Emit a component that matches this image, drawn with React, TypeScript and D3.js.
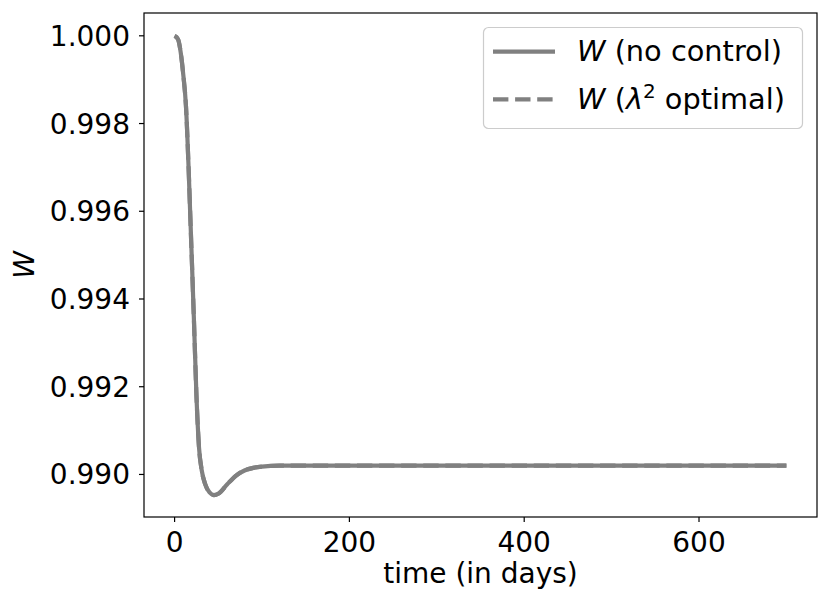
import React from "react";
import * as d3 from "d3";

const timeDays = [0, 4, 7, 10, 13, 16, 19, 22, 25, 28, 31, 35, 40, 45, 50, 60, 70, 80, 90, 100, 120, 150, 200, 300, 400, 500, 600, 700];
const wNoControl = [1.0, 0.99992, 0.99962, 0.9991, 0.9984, 0.997, 0.9953, 0.9936, 0.9918, 0.9906, 0.9901, 0.98978, 0.98959, 0.98953, 0.98956, 0.98977, 0.98997, 0.99009, 0.99015, 0.99018, 0.9902, 0.9902, 0.9902, 0.9902, 0.9902, 0.9902, 0.9902, 0.9902];
const wOptimal = [...wNoControl];
const xTicks = [0, 200, 400, 600];
const yTicks = [0.99, 0.992, 0.994, 0.996, 0.998, 1.0];

export default function App() {
  const W = 830, H = 606;
  const left = 144, right = 817, top = 13, bottom = 517;
  const x = d3.scaleLinear().domain([-35, 735]).range([left, right]);
  const y = d3.scaleLinear().domain([0.98903, 1.00052]).range([bottom, top]);
  const line = d3
    .line<number>()
    .x((_, i) => x(timeDays[i]))
    .y((d) => y(d))
    .curve(d3.curveMonotoneX);
  const font = "DejaVu Sans, sans-serif";
  const color = "#808080";
  return (
    <svg width={W} height={H} style={{ position: "absolute", left: 0, top: 0, background: "#fff" }} fontFamily={font}>
      <rect width={W} height={H} fill="#fff" />
      <defs>
        <clipPath id="clip">
          <rect x={left} y={top} width={right - left} height={bottom - top} />
        </clipPath>
      </defs>
      <g clipPath="url(#clip)">
        <path d={line(wNoControl) || ""} fill="none" stroke={color} strokeWidth={4.2} />
        <path d={line(wOptimal) || ""} fill="none" stroke={color} strokeWidth={4.2} strokeDasharray="15.4 6.7" />
      </g>
      <rect x={left} y={top} width={right - left} height={bottom - top} fill="none" stroke="#000" strokeWidth={1.2} />
      {xTicks.map((t) => (
        <g key={t}>
          <line x1={x(t)} x2={x(t)} y1={bottom} y2={bottom + 5} stroke="#000" strokeWidth={1.2} />
          <text x={x(t)} y={551.5} textAnchor="middle" fontSize={28}>
            {t}
          </text>
        </g>
      ))}
      {yTicks.map((t) => (
        <g key={t}>
          <line x1={left - 5} x2={left} y1={y(t)} y2={y(t)} stroke="#000" strokeWidth={1.2} />
          <text x={130} y={y(t) + 10} textAnchor="end" fontSize={28}>
            {t.toFixed(3)}
          </text>
        </g>
      ))}
      <text x={(left + right) / 2} y={583} textAnchor="middle" fontSize={28}>
        time (in days)
      </text>
      <text
        transform={`translate(34, ${(top + bottom) / 2}) rotate(-90)`}
        textAnchor="middle"
        fontSize={28}
        fontStyle="italic"
      >
        W
      </text>
      <rect x={483.5} y={27.5} width={319} height={101} rx={5} fill="#fff" fillOpacity={0.8} stroke="#cccccc" strokeWidth={1.2} />
      <line x1={493} x2={555} y1={51.7} y2={51.7} stroke={color} strokeWidth={4.2} />
      <line x1={493} x2={555} y1={99.3} y2={99.3} stroke={color} strokeWidth={4.2} strokeDasharray="15.4 6.7" />
      <text x={577} y={61} fontSize={28.8}>
        <tspan fontStyle="italic">W</tspan>
        <tspan> (no control)</tspan>
      </text>
      <text x={577} y={108.5} fontSize={28.8}>
        <tspan fontStyle="italic">W</tspan>
        <tspan> (</tspan>
        <tspan fontStyle="italic">λ</tspan>
        <tspan fontSize={20} dy={-11}>2</tspan>
        <tspan dy={11}> optimal)</tspan>
      </text>
    </svg>
  );
}
